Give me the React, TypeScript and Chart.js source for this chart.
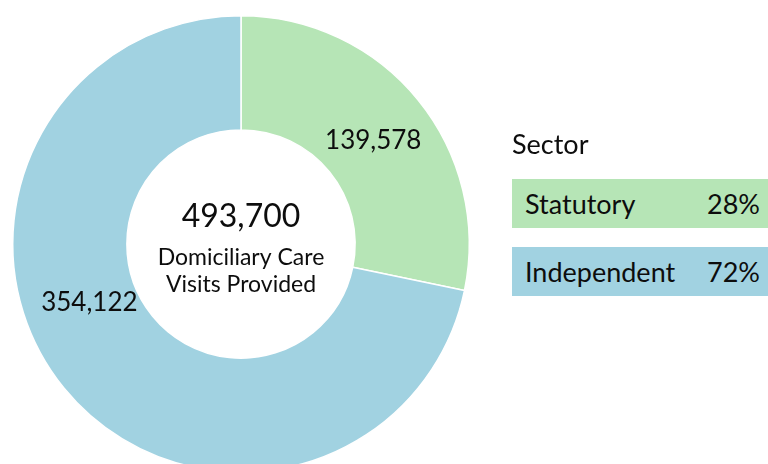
import React, { useEffect, useRef } from "react";
import { Chart, registerables } from "chart.js";

Chart.register(...registerables);

const categories = ["Statutory", "Independent"];
const visits = [139578, 354122];
const sliceColors = ["#B6E5B6", "#A1D2E1"];
const centerSubtitle = ["Domiciliary Care", "Visits Provided"];
const legendTitle = "Sector";
const labelAngleFraction = [0.512, 0.57];
const labelRadiusFraction = [0.979, 0.949];

const FONT = "Lato, 'Open Sans', sans-serif";
const TEXT = "#0d0d0d";

const total = visits.reduce((a, b) => a + b, 0);
const fmt = (n: number) => n.toLocaleString("en-US");
const pct = visits.map((v) => Math.round((v / total) * 100) + "%");

const labelsPlugin = {
  id: "sliceLabels",
  afterDatasetsDraw(chart: any) {
    const ctx = chart.ctx as CanvasRenderingContext2D;
    const meta = chart.getDatasetMeta(0);
    ctx.save();
    ctx.fillStyle = TEXT;
    ctx.textAlign = "center";
    ctx.textBaseline = "middle";
    ctx.font = `26px ${FONT}`;
    meta.data.forEach((arc: any, i: number) => {
      const p = arc.getProps(["x", "y", "startAngle", "endAngle", "innerRadius", "outerRadius"], true);
      const a = p.startAngle + (p.endAngle - p.startAngle) * labelAngleFraction[i];
      const r = ((p.innerRadius + p.outerRadius) / 2) * labelRadiusFraction[i];
      ctx.fillText(fmt(visits[i]), p.x + Math.cos(a) * r, p.y + Math.sin(a) * r);
    });
    const c = meta.data[0];
    ctx.font = `32px ${FONT}`;
    ctx.fillText(fmt(total), c.x, c.y - 27);
    ctx.font = `23px ${FONT}`;
    ctx.fillText(centerSubtitle[0], c.x, c.y + 14);
    ctx.fillText(centerSubtitle[1], c.x, c.y + 41);
    ctx.restore();
  },
};

export default function App() {
  const ref = useRef<HTMLCanvasElement | null>(null);
  useEffect(() => {
    if (!ref.current) return;
    const chart = new Chart(ref.current, {
      type: "doughnut",
      data: {
        labels: categories,
        datasets: [
          {
            data: visits,
            backgroundColor: sliceColors,
            borderColor: "#ffffff",
            borderWidth: 1.5,
          },
        ],
      },
      options: {
        responsive: false,
        animation: false,
        cutout: "50%",
        events: [],
        layout: { padding: { left: 12, top: 15, right: 298, bottom: 7 } },
        plugins: { legend: { display: false }, tooltip: { enabled: false } },
      },
      plugins: [labelsPlugin],
    });
    return () => chart.destroy();
  }, []);

  return (
    <div
      style={{
        position: "fixed",
        left: 0,
        top: 0,
        width: 768,
        height: 464,
        overflow: "hidden",
        background: "#ffffff",
        fontFamily: FONT,
        color: TEXT,
      }}
    >
      <canvas ref={ref} width={768} height={480} style={{ display: "block", width: 768, height: 480 }} />
      <div style={{ position: "absolute", left: 512, top: 129, height: 30, lineHeight: "30px", fontSize: 27 }}>
        {legendTitle}
      </div>
      {categories.map((cat, i) => (
        <div
          key={cat}
          style={{
            position: "absolute",
            left: 512,
            top: 179 + i * 68,
            width: 256,
            height: 49,
            background: sliceColors[i],
            display: "flex",
            alignItems: "center",
            justifyContent: "space-between",
            boxSizing: "border-box",
            padding: "0 8px 0 13px",
            fontSize: 27,
          }}
        >
          <span>{cat}</span>
          <span>{pct[i]}</span>
        </div>
      ))}
    </div>
  );
}
